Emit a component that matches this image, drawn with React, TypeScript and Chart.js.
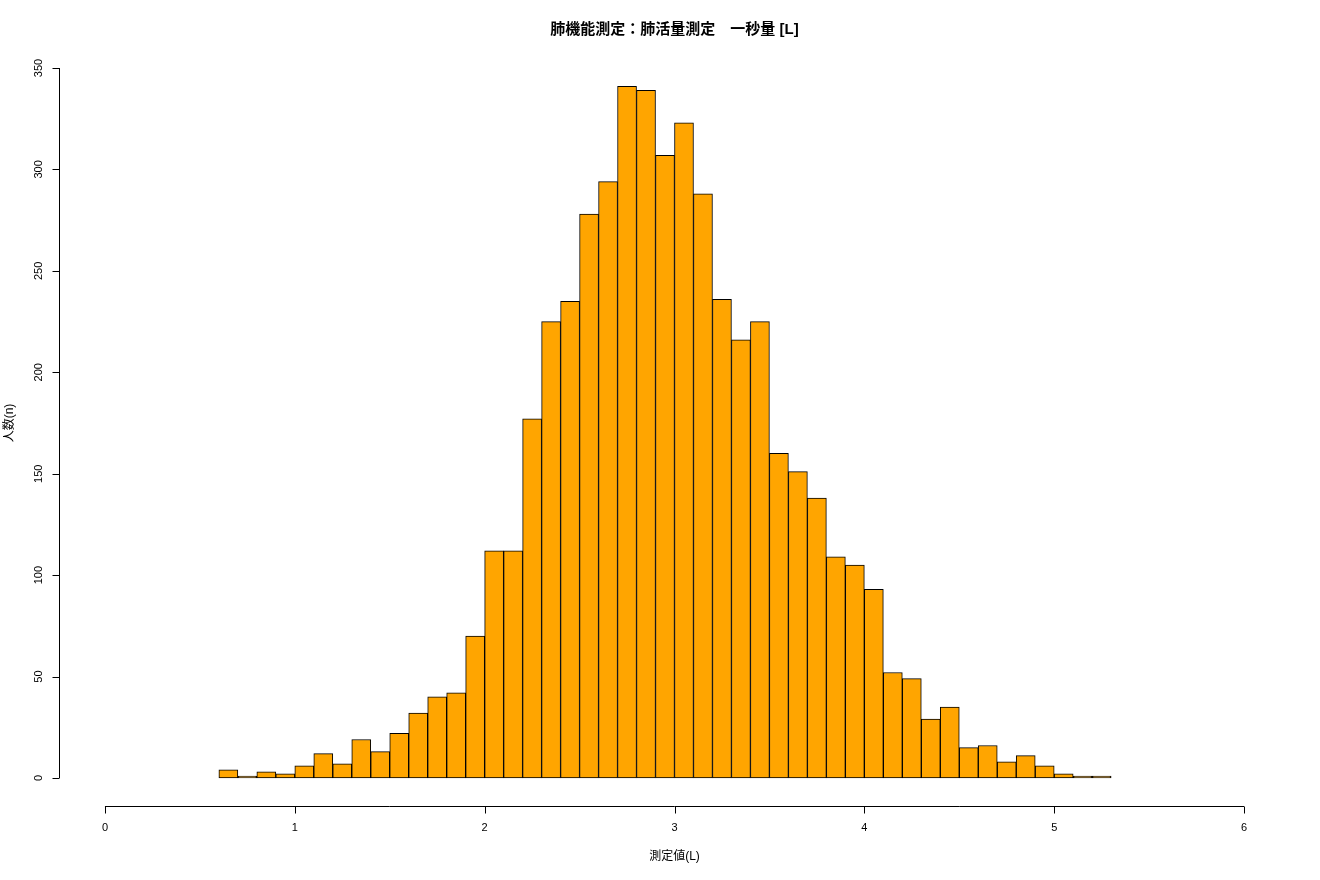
import React, { useEffect, useRef } from "react";
import { Chart, registerables } from "chart.js";

Chart.register(...registerables);

const binStarts = [
  0.6, 0.7, 0.8, 0.9, 1.0, 1.1, 1.2, 1.3, 1.4, 1.5, 1.6, 1.7, 1.8, 1.9, 2.0, 2.1,
  2.2, 2.3, 2.4, 2.5, 2.6, 2.7, 2.8, 2.9, 3.0, 3.1, 3.2, 3.3, 3.4, 3.5, 3.6, 3.7,
  3.8, 3.9, 4.0, 4.1, 4.2, 4.3, 4.4, 4.5, 4.6, 4.7, 4.8, 4.9, 5.0, 5.1, 5.2,
];
const counts = [
  4, 1, 3, 2, 6, 12, 7, 19, 13, 22, 32, 40, 42, 70, 112, 112,
  177, 225, 235, 278, 294, 341, 339, 307, 323, 288, 236, 216, 225, 160, 151, 138,
  109, 105, 93, 52, 49, 29, 35, 15, 16, 8, 11, 6, 2, 1, 1,
];
const binWidth = 0.1;
const xTicks = [0, 1, 2, 3, 4, 5, 6];
const yTicks = [0, 50, 100, 150, 200, 250, 300, 350];
const titleText = "肺機能測定：肺活量測定　一秒量 [L]";
const xLabel = "測定値(L)";
const yLabel = "人数(n)";

const FONT = '"Liberation Sans", Arial, "Noto Sans CJK JP", sans-serif';

const rAxes = {
  id: "rAxes",
  afterDraw(chart: any) {
    const ctx = chart.ctx;
    const xs = chart.scales.x;
    const ys = chart.scales.y;
    const area = chart.chartArea;
    ctx.save();
    ctx.strokeStyle = "#000";
    ctx.fillStyle = "#000";
    ctx.lineWidth = 1;
    // x axis
    const yAx = Math.round(area.bottom) + 0.5;
    ctx.beginPath();
    ctx.moveTo(xs.getPixelForValue(xTicks[0]), yAx);
    ctx.lineTo(xs.getPixelForValue(xTicks[xTicks.length - 1]), yAx);
    for (const t of xTicks) {
      const px = Math.round(xs.getPixelForValue(t)) + 0.5;
      ctx.moveTo(px, yAx);
      ctx.lineTo(px, yAx + 7);
    }
    ctx.stroke();
    ctx.font = "11px " + FONT;
    ctx.textAlign = "center";
    ctx.textBaseline = "middle";
    for (const t of xTicks) {
      ctx.fillText(String(t), xs.getPixelForValue(t), yAx + 21);
    }
    // y axis
    const xAx = Math.round(area.left) + 0.5;
    ctx.beginPath();
    ctx.moveTo(xAx, ys.getPixelForValue(yTicks[0]));
    ctx.lineTo(xAx, ys.getPixelForValue(yTicks[yTicks.length - 1]));
    for (const t of yTicks) {
      const py = Math.round(ys.getPixelForValue(t)) + 0.5;
      ctx.moveTo(xAx, py);
      ctx.lineTo(xAx - 7, py);
    }
    ctx.stroke();
    for (const t of yTicks) {
      ctx.save();
      ctx.translate(xAx - 21, ys.getPixelForValue(t));
      ctx.rotate(-Math.PI / 2);
      ctx.fillText(String(t), 0, 0);
      ctx.restore();
    }
    // labels
    const cx = (area.left + area.right) / 2;
    const cy = (area.top + area.bottom) / 2;
    ctx.font = "12px " + FONT;
    ctx.fillText(xLabel, cx, 857);
    ctx.save();
    ctx.translate(10, cy);
    ctx.rotate(-Math.PI / 2);
    ctx.fillText(yLabel, 0, 0);
    ctx.restore();
    ctx.font = "bold 15px " + FONT;
    ctx.fillText(titleText, cx, 30);
    ctx.restore();
  },
};

export default function App() {
  const ref = useRef<HTMLCanvasElement>(null);
  useEffect(() => {
    if (!ref.current) return;
    const data = binStarts.map((s, i) => ({ x: s + binWidth / 2, y: counts[i] }));
    const chart = new Chart(ref.current, {
      type: "bar",
      data: {
        datasets: [
          {
            data: data as any,
            backgroundColor: "#FFA500",
            borderColor: "#000",
            borderWidth: 1,
            borderSkipped: false,
            barPercentage: 1,
            categoryPercentage: 1,
          },
        ],
      },
      options: {
        animation: false,
        responsive: false,
        maintainAspectRatio: false,
        layout: { padding: { left: 59.4, right: 30.4, top: 39.6, bottom: 73.6 } },
        plugins: { legend: { display: false }, tooltip: { enabled: false }, title: { display: false } },
        scales: {
          x: { type: "linear", min: -0.24, max: 6.24, display: false, offset: false },
          y: { type: "linear", min: -14, max: 364, display: false },
        },
      },
      plugins: [rAxes],
    });
    return () => chart.destroy();
  }, []);
  return (
    <div style={{ position: "fixed", left: 0, top: 0, width: 1320, height: 880, background: "#fff" }}>
      <canvas ref={ref} width={1320} height={880} style={{ width: 1320, height: 880 }} />
    </div>
  );
}
